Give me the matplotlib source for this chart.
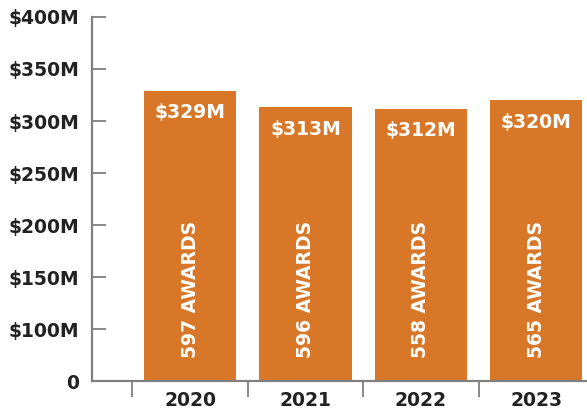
import matplotlib
matplotlib.use('Agg')
from matplotlib import pyplot as plt

years = ['2020', '2021', '2022', '2023']
funding = [329, 313, 312, 320]          # $M
awards = [597, 596, 558, 565]
ytick_vals = [50, 100, 150, 200, 250, 300, 350, 400]
ytick_labels = ['0', '$100M', '$150M', '$200M', '$250M', '$300M', '$350M', '$400M']

orange = '#D87727'
grey = '#808080'
dark = '#222222'

plt.rcParams['font.family'] = ['DejaVu Sans']
plt.rcParams['font.weight'] = 'bold'

fig = plt.figure(figsize=(5.87, 4.11), dpi=100)
ax = fig.add_axes([92 / 587, 30 / 411, 495 / 587, 364 / 411])

x = list(range(len(years)))
ax.bar(x, funding, width=0.8, color=orange, zorder=2)

for i in x:
    ax.text(i, funding[i] - 12, '$%dM' % funding[i], ha='center', va='top',
            color='white', fontsize=13.5, fontweight='bold')
    ax.text(i, 72, '%d AWARDS' % awards[i], ha='center', va='bottom', rotation=90,
            color='white', fontsize=13.5, fontweight='bold')

ax.set_xlim(-0.85, 3.44)
ax.set_ylim(50, 400)

ax.set_yticks(ytick_vals)
ax.set_yticklabels(ytick_labels)
ax.set_xticks(x)
ax.set_xticklabels(years)
ax.set_xticks([-0.5, 0.5, 1.5, 2.5], minor=True)

ax.tick_params(axis='y', direction='in', length=10, width=1.3, color=grey, pad=9,
               labelsize=13.5, labelcolor=dark)
ax.tick_params(axis='x', which='major', length=0, pad=7, labelsize=13.5, labelcolor=dark)
ax.tick_params(axis='x', which='minor', direction='out', length=11.5, width=1.3, color=grey)
# no tick mark at the bottom "0" label
ax.yaxis.get_major_ticks()[0].tick1line.set_visible(False)

for s in ['top', 'right']:
    ax.spines[s].set_visible(False)
for s in ['left', 'bottom']:
    ax.spines[s].set_color(grey)
    ax.spines[s].set_linewidth(1.6)

for lab in ax.get_xticklabels() + ax.get_yticklabels():
    lab.set_fontweight('bold')

plt.savefig('out.png', dpi=100)
